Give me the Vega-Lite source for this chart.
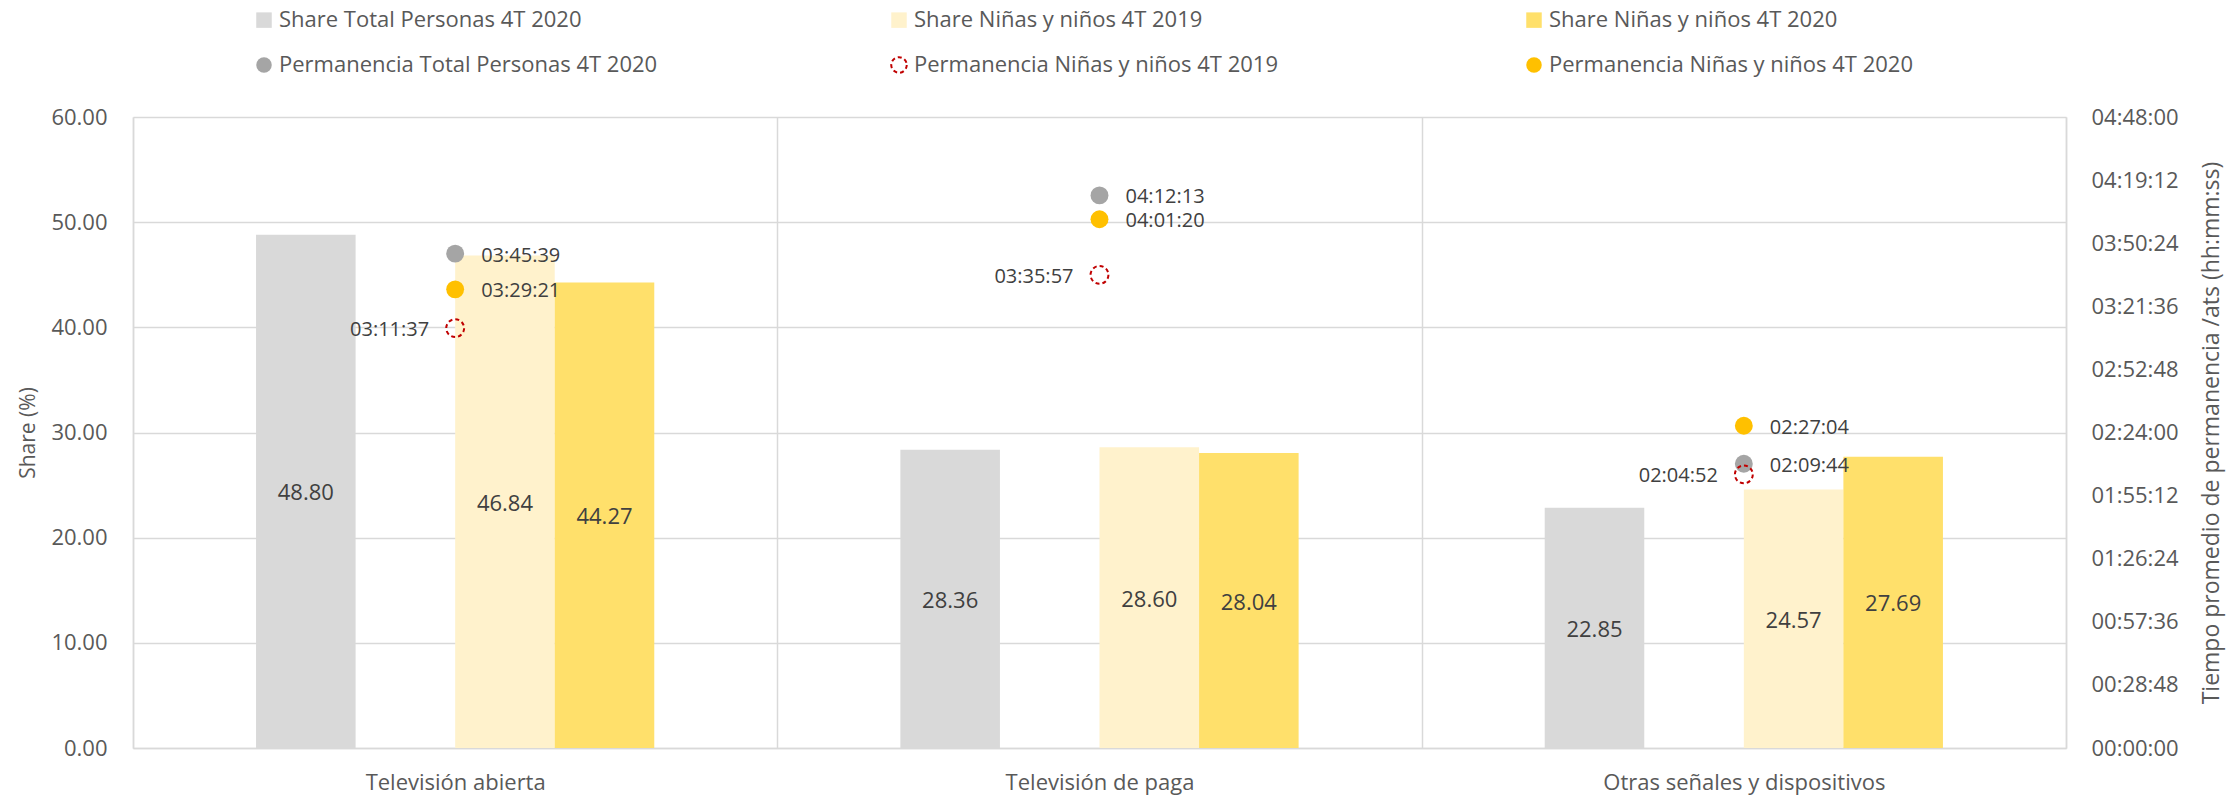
{
  "$schema": "https://vega.github.io/schema/vega-lite/v6.json",
  "width": 1933,
  "height": 631,
  "autosize": {"type": "none"},
  "padding": {"left": 133, "top": 117, "right": 173, "bottom": 52},
  "config": {
    "font": "Open Sans",
    "view": {"stroke": null},
    "axis": {"labelColor": "#595959", "titleColor": "#595959", "labelFontSize": 22, "titleFontSize": 21, "titleFontWeight": "normal", "domainColor": "#d9d9d9", "domainWidth": 1.5, "gridColor": "#d9d9d9", "gridWidth": 1.5, "ticks": false, "tickSize": 0, "labelLimit": 800},
    "legend": {"labelFontSize": 22, "labelColor": "#595959", "labelLimit": 800, "symbolSize": 240, "symbolStrokeWidth": 2, "padding": 0}
  },
  "datasets": {
    "bars": [
      {"cat": "Televisión abierta", "series": "Share Total Personas 4T 2020", "share": 48.80},
      {"cat": "Televisión abierta", "series": "Share Niñas y niños 4T 2019", "share": 46.84},
      {"cat": "Televisión abierta", "series": "Share Niñas y niños 4T 2020", "share": 44.27},
      {"cat": "Televisión de paga", "series": "Share Total Personas 4T 2020", "share": 28.36},
      {"cat": "Televisión de paga", "series": "Share Niñas y niños 4T 2019", "share": 28.60},
      {"cat": "Televisión de paga", "series": "Share Niñas y niños 4T 2020", "share": 28.04},
      {"cat": "Otras señales y dispositivos", "series": "Share Total Personas 4T 2020", "share": 22.85},
      {"cat": "Otras señales y dispositivos", "series": "Share Niñas y niños 4T 2019", "share": 24.57},
      {"cat": "Otras señales y dispositivos", "series": "Share Niñas y niños 4T 2020", "share": 27.69}
    ],
    "points": [
      {"cat": "Televisión abierta", "series": "Permanencia Total Personas 4T 2020", "secs": 13539, "label": "03:45:39"},
      {"cat": "Televisión abierta", "series": "Permanencia Niñas y niños 4T 2020", "secs": 12561, "label": "03:29:21"},
      {"cat": "Televisión abierta", "series": "Permanencia Niñas y niños 4T 2019", "secs": 11497, "label": "03:11:37"},
      {"cat": "Televisión de paga", "series": "Permanencia Total Personas 4T 2020", "secs": 15133, "label": "04:12:13"},
      {"cat": "Televisión de paga", "series": "Permanencia Niñas y niños 4T 2020", "secs": 14480, "label": "04:01:20"},
      {"cat": "Televisión de paga", "series": "Permanencia Niñas y niños 4T 2019", "secs": 12957, "label": "03:35:57"},
      {"cat": "Otras señales y dispositivos", "series": "Permanencia Total Personas 4T 2020", "secs": 7784, "label": "02:09:44"},
      {"cat": "Otras señales y dispositivos", "series": "Permanencia Niñas y niños 4T 2020", "secs": 8824, "label": "02:27:04"},
      {"cat": "Otras señales y dispositivos", "series": "Permanencia Niñas y niños 4T 2019", "secs": 7492, "label": "02:04:52"}
    ]
  },
  "encoding": {
    "x": {
      "field": "cat",
      "type": "nominal",
      "sort": ["Televisión abierta", "Televisión de paga", "Otras señales y dispositivos"],
      "scale": {"paddingInner": 0, "paddingOuter": 0},
      "axis": {"title": null, "labelAngle": 0, "grid": true, "tickBand": "extent", "labelPadding": 24, "labelColor": "#595959", "labelLimit": 800}
    }
  },
  "layer": [
    {
      "data": {"name": "bars"},
      "mark": {"type": "bar"},
      "encoding": {
        "xOffset": {"field": "series", "type": "nominal", "scale": {"domain": ["_l", "Share Total Personas 4T 2020", "_gap", "Share Niñas y niños 4T 2019", "Share Niñas y niños 4T 2020", "_r"], "paddingInner": 0, "paddingOuter": 0.236}},
        "y": {
          "field": "share", "type": "quantitative",
          "scale": {"domain": [0, 60], "nice": false},
          "axis": {"orient": "left", "values": [0, 10, 20, 30, 40, 50, 60], "format": ".2f", "title": "Share (%)", "labelPadding": 26, "titlePadding": 12, "grid": true}
        },
        "fill": {
          "field": "series", "type": "nominal",
          "scale": {
            "domain": ["Share Total Personas 4T 2020", "Share Niñas y niños 4T 2019", "Share Niñas y niños 4T 2020", "Permanencia Total Personas 4T 2020", "Permanencia Niñas y niños 4T 2019", "Permanencia Niñas y niños 4T 2020"],
            "range": ["#d9d9d9", "#fff2cc", "#ffe06b", "#a5a5a5", "transparent", "#ffc000"]
          },
          "legend": {"title": null, "orient": "none", "direction": "horizontal", "legendX": 120, "legendY": -108, "columns": 3, "columnPadding": 229, "rowPadding": 21, "gridAlign": "all"}
        }
      }
    },
    {
      "data": {"name": "bars"},
      "mark": {"type": "text", "fontSize": 22, "color": "#404040", "baseline": "middle", "dy": 2},
      "encoding": {
        "xOffset": {"field": "series", "type": "nominal", "scale": {"domain": ["_l", "Share Total Personas 4T 2020", "_gap", "Share Niñas y niños 4T 2019", "Share Niñas y niños 4T 2020", "_r"], "paddingInner": 0, "paddingOuter": 0.236}},
        "y": {"field": "share", "type": "quantitative", "scale": {"domain": [0, 120], "nice": false}, "axis": null},
        "text": {"field": "share", "type": "quantitative", "format": ".2f"}
      }
    },
    {
      "data": {"name": "points"},
      "encoding": {
        "y": {
          "field": "secs", "type": "quantitative",
          "scale": {"domain": [0, 17280], "nice": false},
          "axis": {"orient": "right", "values": [0, 1728, 3456, 5184, 6912, 8640, 10368, 12096, 13824, 15552, 17280], "labelExpr": "utcFormat(datum.value * 1000, '%H:%M:%S')", "title": "Tiempo promedio de permanencia /ats (hh:mm:ss)", "titleAngle": 270, "titleFontSize": 23, "labelPadding": 25, "titlePadding": 45, "grid": false}
        }
      },
      "layer": [
        {
          "mark": {"type": "point", "filled": true, "size": 320, "strokeWidth": 2, "opacity": 1},
          "encoding": {
            "fill": {
              "field": "series", "type": "nominal",
              "scale": {
                "domain": ["Share Total Personas 4T 2020", "Share Niñas y niños 4T 2019", "Share Niñas y niños 4T 2020", "Permanencia Total Personas 4T 2020", "Permanencia Niñas y niños 4T 2019", "Permanencia Niñas y niños 4T 2020"],
                "range": ["#d9d9d9", "#fff2cc", "#ffe06b", "#a5a5a5", "transparent", "#ffc000"]
              },
              "legend": {"title": null, "orient": "none", "direction": "horizontal", "legendX": 120, "legendY": -108, "columns": 3, "columnPadding": 229, "rowPadding": 21, "gridAlign": "all"}
            },
            "shape": {
              "field": "series", "type": "nominal",
              "scale": {
                "domain": ["Share Total Personas 4T 2020", "Share Niñas y niños 4T 2019", "Share Niñas y niños 4T 2020", "Permanencia Total Personas 4T 2020", "Permanencia Niñas y niños 4T 2019", "Permanencia Niñas y niños 4T 2020"],
                "range": ["square", "square", "square", "circle", "circle", "circle"]
              },
              "legend": {"title": null, "orient": "none", "direction": "horizontal", "legendX": 120, "legendY": -108, "columns": 3, "columnPadding": 229, "rowPadding": 21, "gridAlign": "all"}
            },
            "stroke": {
              "field": "series", "type": "nominal",
              "scale": {
                "domain": ["Share Total Personas 4T 2020", "Share Niñas y niños 4T 2019", "Share Niñas y niños 4T 2020", "Permanencia Total Personas 4T 2020", "Permanencia Niñas y niños 4T 2019", "Permanencia Niñas y niños 4T 2020"],
                "range": ["transparent", "transparent", "transparent", "transparent", "#c00000", "transparent"]
              },
              "legend": {"title": null, "orient": "none", "direction": "horizontal", "legendX": 120, "legendY": -108, "columns": 3, "columnPadding": 229, "rowPadding": 21, "gridAlign": "all"}
            },
            "strokeDash": {
              "field": "series", "type": "nominal",
              "scale": {
                "domain": ["Share Total Personas 4T 2020", "Share Niñas y niños 4T 2019", "Share Niñas y niños 4T 2020", "Permanencia Total Personas 4T 2020", "Permanencia Niñas y niños 4T 2019", "Permanencia Niñas y niños 4T 2020"],
                "range": [[1, 0], [1, 0], [1, 0], [1, 0], [4, 3], [1, 0]]
              },
              "legend": {"title": null, "orient": "none", "direction": "horizontal", "legendX": 120, "legendY": -108, "columns": 3, "columnPadding": 229, "rowPadding": 21, "gridAlign": "all"}
            }
          }
        },
        {
          "transform": [{"filter": {"not": {"field": "series", "equal": "Permanencia Niñas y niños 4T 2019"}}}],
          "mark": {"type": "text", "fontSize": 20, "color": "#404040", "align": "left", "baseline": "middle", "dx": 26, "dy": 2},
          "encoding": {"text": {"field": "label", "type": "nominal"}}
        },
        {
          "transform": [{"filter": {"field": "series", "equal": "Permanencia Niñas y niños 4T 2019"}}],
          "mark": {"type": "text", "fontSize": 20, "color": "#404040", "align": "right", "baseline": "middle", "dx": -26, "dy": 2},
          "encoding": {"text": {"field": "label", "type": "nominal"}}
        }
      ]
    }
  ],
  "resolve": {"scale": {"y": "independent"}, "axis": {"y": "independent"}}
}
